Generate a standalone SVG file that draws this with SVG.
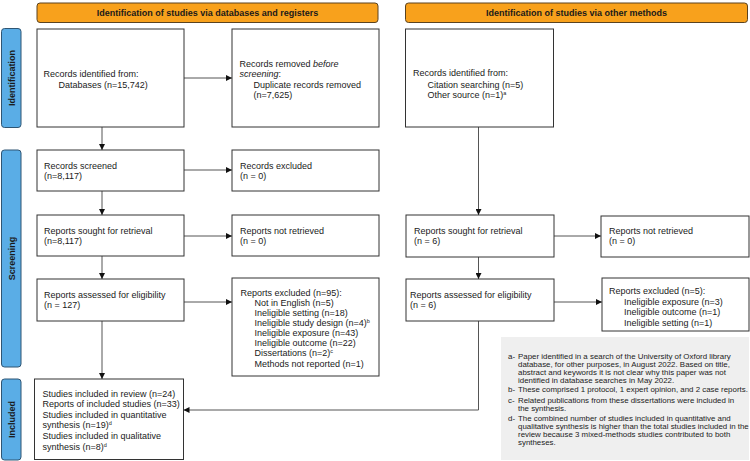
<svg xmlns="http://www.w3.org/2000/svg" width="750" height="461" viewBox="0 0 750 461">
<defs>
<style>
text{font-family:"Liberation Sans",Arial,sans-serif;fill:#1a1a1a}
.t{font-size:9px}
.f{font-size:7.9px;fill:#222}
.h{font-size:9px;font-weight:bold;text-anchor:middle}
.s{font-size:9px;font-weight:bold;text-anchor:middle}
.box{fill:#fff;stroke:#333;stroke-width:1}
.hdr{fill:#F8A11C;stroke:#5a4320;stroke-width:1}
.side{fill:#5AADE6;stroke:#2f5573;stroke-width:1}
.c{fill:none;stroke:#555;stroke-width:1}
.sup{font-size:5.5px}
</style>
<marker id="ah" markerWidth="6" markerHeight="6" refX="6" refY="3" orient="auto" markerUnits="userSpaceOnUse">
<path d="M0,0 L6,3 L0,6 Z" fill="#111"/>
</marker>
</defs>
<rect width="750" height="461" fill="#fff"/>

<g id="header-left"><rect class="hdr" x="37" y="3" width="341" height="19.5" rx="3"/><text class="h" x="207.5" y="16">Identification of studies via databases and registers</text></g>
<g id="header-right"><rect class="hdr" x="405.5" y="3" width="342" height="19.5" rx="3"/><text class="h" x="576.5" y="16">Identification of studies via other methods</text></g>

<g id="side-identification"><rect class="side" x="1.5" y="28.5" width="19.5" height="99" rx="3"/><text class="s" transform="translate(14.5,78) rotate(-90)">Identification</text></g>
<g id="side-screening"><rect class="side" x="1.5" y="150" width="19.5" height="217" rx="3"/><text class="s" transform="translate(14.5,258.5) rotate(-90)">Screening</text></g>
<g id="side-included"><rect class="side" x="1.5" y="379" width="19.5" height="81" rx="3"/><text class="s" transform="translate(14.5,419.5) rotate(-90)">Included</text></g>

<g id="connectors">
<line class="c" x1="184" y1="78" x2="232" y2="78" marker-end="url(#ah)"/>
<line class="c" x1="102" y1="127" x2="102" y2="150" marker-end="url(#ah)"/>
<line class="c" x1="184" y1="170" x2="232" y2="170" marker-end="url(#ah)"/>
<line class="c" x1="102" y1="191" x2="102" y2="215" marker-end="url(#ah)"/>
<line class="c" x1="184" y1="236" x2="232" y2="236" marker-end="url(#ah)"/>
<line class="c" x1="102" y1="256" x2="102" y2="279" marker-end="url(#ah)"/>
<line class="c" x1="184" y1="302" x2="232" y2="302" marker-end="url(#ah)"/>
<line class="c" x1="102" y1="321" x2="102" y2="379" marker-end="url(#ah)"/>
<line class="c" x1="478.5" y1="127" x2="478.5" y2="215" marker-end="url(#ah)"/>
<line class="c" x1="554" y1="236" x2="601" y2="236" marker-end="url(#ah)"/>
<line class="c" x1="478.5" y1="257" x2="478.5" y2="279" marker-end="url(#ah)"/>
<line class="c" x1="554" y1="302" x2="602" y2="302" marker-end="url(#ah)"/>
<polyline class="c" points="478.5,321 478.5,410 183.5,410" marker-end="url(#ah)"/>
</g>

<g id="n-db-identified"><rect class="box" x="37" y="29" width="147" height="98"/>
<text class="t" x="43.5" y="77">Records identified from:</text>
<text class="t" x="58.5" y="88">Databases (n=15,742)</text></g>

<g id="n-removed"><rect class="box" x="232" y="29" width="147" height="98"/>
<text class="t" x="239.5" y="66.5">Records removed <tspan font-style="italic">before</tspan></text>
<text class="t" x="239.5" y="77" font-style="italic">screening<tspan font-style="normal">:</tspan></text>
<text class="t" x="253.5" y="87.5">Duplicate records removed</text>
<text class="t" x="253.5" y="98">(n=7,625)</text></g>

<g id="n-other-identified"><rect class="box" x="405.5" y="29" width="148" height="98"/>
<text class="t" x="413" y="76">Records identified from:</text>
<text class="t" x="427.5" y="87.5">Citation searching (n=5)</text>
<text class="t" x="427.5" y="98">Other source (n=1)<tspan class="sup" dy="-3">a</tspan></text></g>

<g id="n-screened"><rect class="box" x="37" y="150" width="147" height="41"/>
<text class="t" x="44" y="169">Records screened</text>
<text class="t" x="44" y="179">(n=8,117)</text></g>

<g id="n-excluded"><rect class="box" x="232" y="150" width="147" height="41"/>
<text class="t" x="240" y="169">Records excluded</text>
<text class="t" x="240" y="179">(n = 0)</text></g>

<g id="n-sought"><rect class="box" x="37" y="215" width="147" height="41"/>
<text class="t" x="44" y="234">Reports sought for retrieval</text>
<text class="t" x="44" y="244">(n=8,117)</text></g>

<g id="n-not-retrieved"><rect class="box" x="232" y="215" width="147" height="41"/>
<text class="t" x="240" y="234">Reports not retrieved</text>
<text class="t" x="240" y="244">(n = 0)</text></g>

<g id="n-sought-other"><rect class="box" x="406" y="215" width="148" height="42"/>
<text class="t" x="414" y="234">Reports sought for retrieval</text>
<text class="t" x="414" y="244">(n = 6)</text></g>

<g id="n-not-retrieved-other"><rect class="box" x="601" y="216" width="148" height="41"/>
<text class="t" x="609" y="234">Reports not retrieved</text>
<text class="t" x="609" y="244">(n = 0)</text></g>

<g id="n-assessed"><rect class="box" x="37" y="279" width="147" height="42"/>
<text class="t" x="44" y="297.5">Reports assessed for eligibility</text>
<text class="t" x="44" y="308">(n = 127)</text></g>

<g id="n-reports-excluded"><rect class="box" x="232" y="278" width="147" height="98"/>
<text class="t" x="240.5" y="295.5">Reports excluded (n=95):</text>
<text class="t" x="254.5" y="305.5">Not in English (n=5)</text>
<text class="t" x="254.5" y="315.5">Ineligible setting (n=18)</text>
<text class="t" x="254.5" y="325.5">Ineligible study design (n=4)<tspan class="sup" dy="-3">b</tspan></text>
<text class="t" x="254.5" y="335.5">Ineligible exposure (n=43)</text>
<text class="t" x="254.5" y="345.5">Ineligible outcome (n=22)</text>
<text class="t" x="254.5" y="356">Dissertations (n=2)<tspan class="sup" dy="-3">c</tspan></text>
<text class="t" x="254.5" y="366.5">Methods not reported (n=1)</text></g>

<g id="n-assessed-other"><rect class="box" x="406" y="279" width="148" height="42"/>
<text class="t" x="410" y="298">Reports assessed for eligibility</text>
<text class="t" x="410" y="308">(n = 6)</text></g>

<g id="n-reports-excluded-other"><rect class="box" x="602" y="278" width="147" height="53"/>
<text class="t" x="609" y="294">Reports excluded (n=5):</text>
<text class="t" x="624" y="305">Ineligible exposure (n=3)</text>
<text class="t" x="624" y="315">Ineligible outcome (n=1)</text>
<text class="t" x="624" y="325.5">Ineligible setting (n=1)</text></g>

<g id="n-included"><rect class="box" x="34.5" y="379" width="149" height="80.5"/>
<text class="t" x="42.5" y="396.5">Studies included in review (n=24)</text>
<text class="t" x="42.5" y="407">Reports of included studies (n=33)</text>
<text class="t" x="42.5" y="417.5">Studies included in quantitative</text>
<text class="t" x="42.5" y="428">synthesis (n=19)<tspan class="sup" dy="-3">d</tspan></text>
<text class="t" x="42.5" y="439">Studies included in qualitative</text>
<text class="t" x="42.5" y="449.5">synthesis (n=8)<tspan class="sup" dy="-3">d</tspan></text></g>

<g id="footnotes"><rect x="501" y="337" width="248" height="123" fill="#efefef"/>
<text class="f" x="508" y="358.5">a-</text>
<text class="f" x="518" y="358.5">Paper identified in a search of the University of Oxford library</text>
<text class="f" x="518" y="366.5">database, for other purposes, in August 2022. Based on title,</text>
<text class="f" x="518" y="374.5">abstract and keywords it is not clear why this paper was not</text>
<text class="f" x="518" y="382.5">identified in database searches in May 2022.</text>
<text class="f" x="508" y="391.5">b-</text>
<text class="f" x="518" y="391.5">These comprised 1 protocol, 1 expert opinion, and 2 case reports.</text>
<text class="f" x="508" y="402.5">c-</text>
<text class="f" x="518" y="402.5">Related publications from these dissertations were included in</text>
<text class="f" x="518" y="410.5">the synthesis.</text>
<text class="f" x="508" y="420.5">d-</text>
<text class="f" x="518" y="420.5">The combined number of studies included in quantitative and</text>
<text class="f" x="518" y="428.5">qualitative synthesis is higher than the total studies included in the</text>
<text class="f" x="518" y="436.5">review because 3 mixed-methods studies contributed to both</text>
<text class="f" x="518" y="444.5">syntheses.</text></g>
</svg>
